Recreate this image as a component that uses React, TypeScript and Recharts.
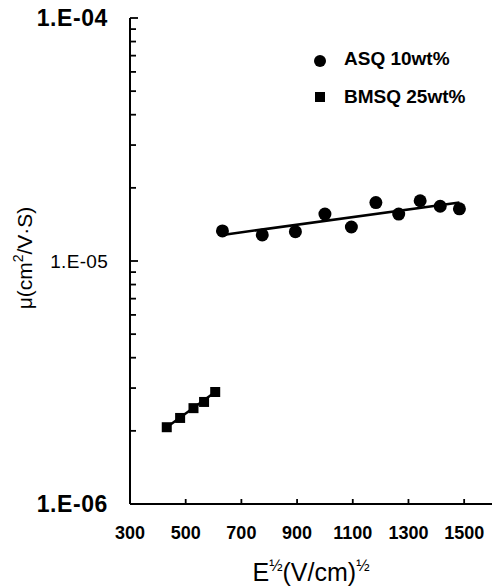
import React from 'react';
import { ScatterChart, Scatter, XAxis, YAxis, Legend } from 'recharts';

// E^1/2 (V/cm)^1/2 and mobility mu (cm2/V.s)
const asqField = [632, 775, 894, 1000, 1095, 1183, 1265, 1342, 1414, 1483];
const asqMobility = [1.33e-5, 1.28e-5, 1.32e-5, 1.56e-5, 1.38e-5, 1.74e-5, 1.56e-5, 1.77e-5, 1.68e-5, 1.64e-5];

const bmsqField = [432, 480, 528, 566, 606];
const bmsqMobility = [2.07e-6, 2.26e-6, 2.48e-6, 2.63e-6, 2.89e-6];

// fitted lines
const asqFitField = [632, 1483];
const asqFitMobility = [1.28e-5, 1.74e-5];
const bmsqFitField = [432, 606];
const bmsqFitMobility = [2.07e-6, 2.89e-6];

const xTicks = [300, 500, 700, 900, 1100, 1300, 1500];
const yTicks = [
  1e-6, 2e-6, 3e-6, 4e-6, 5e-6, 6e-6, 7e-6, 8e-6, 9e-6,
  1e-5, 2e-5, 3e-5, 4e-5, 5e-5, 6e-5, 7e-5, 8e-5, 9e-5,
  1e-4,
];
const yMajorLabels = ['1.E-06', '1.E-05', '1.E-04'];

const toPoints = (xs: number[], ys: number[]) => xs.map((x, i) => ({ x, y: ys[i] }));

const asqData = toPoints(asqField, asqMobility);
const bmsqData = toPoints(bmsqField, bmsqMobility);
const asqFit = toPoints(asqFitField, asqFitMobility);
const bmsqFit = toPoints(bmsqFitField, bmsqFitMobility);

const FONT = '"Liberation Sans", Arial, sans-serif';

// inward tick marks, longer on the decades
const YTick = (props: any) => {
  const { x, y, payload } = props;
  const lg = Math.log10(payload.value);
  const isMajor = Math.abs(lg - Math.round(lg)) < 1e-6;
  const label = isMajor ? yMajorLabels[Math.round(lg) + 6] : null;
  const mid = label === '1.E-05';
  return (
    <g>
      <line x1={x} x2={x + (isMajor ? 8 : 6)} y1={y} y2={y} stroke="#000" strokeWidth={1.8} />
      {label && (
        <text
          x={x - 22}
          y={y + (mid ? 7 : 8)}
          textAnchor="end"
          fontFamily={FONT}
          fontSize={mid ? 19 : 23}
          fontWeight={mid ? 'normal' : 'bold'}
          letterSpacing={mid ? 0.3 : 0.6}
          fill="#000"
        >
          {label}
        </text>
      )}
    </g>
  );
};

const XTick = (props: any) => {
  const { x, y, payload } = props;
  return (
    <g>
      {payload.value !== 300 && (
        <line x1={x} x2={x} y1={y} y2={y - 5} stroke="#000" strokeWidth={1.8} />
      )}
      <text x={x} y={y + 35} textAnchor="middle" fontFamily={FONT} fontSize={18} fontWeight="bold" fill="#000">
        {payload.value}
      </text>
    </g>
  );
};

const Dot = (props: any) => <circle cx={props.cx} cy={props.cy} r={6.5} fill="#000" />;
const Square = (props: any) => <rect x={props.cx - 5} y={props.cy - 5} width={10} height={10} fill="#000" />;
const NoShape = () => <g />;

const XLabel = (props: any) => {
  const { viewBox } = props;
  const cx = viewBox.x + viewBox.width / 2;
  return (
    <text x={cx} y={viewBox.y + 77} textAnchor="middle" fontFamily={FONT} fontSize={25} fill="#000">
      E<tspan fontSize={16} dy={-10}>½</tspan>
      <tspan dy={10}>(V/cm)</tspan>
      <tspan fontSize={16} dy={-10}>½</tspan>
    </text>
  );
};

const YLabel = (props: any) => {
  const { viewBox } = props;
  const cx = 32;
  const cy = viewBox.y + viewBox.height / 2 - 3;
  return (
    <text
      x={cx}
      y={cy}
      transform={`rotate(-90, ${cx}, ${cy})`}
      textAnchor="middle"
      fontFamily={FONT}
      fontSize={21}
      fill="#000"
    >
      μ(cm<tspan fontSize={14} dy={-9}>2</tspan>
      <tspan dy={9}>/V·S)</tspan>
    </text>
  );
};

const LegendContent = () => (
  <div style={{ fontFamily: FONT, fontSize: 19, fontWeight: 'bold', color: '#000' }}>
    <div style={{ display: 'flex', alignItems: 'center', height: 26 }}>
      <svg width={14} height={14} style={{ marginLeft: 1, marginRight: 17 }}>
        <circle cx={7} cy={7} r={6} fill="#000" />
      </svg>
      <span style={{ marginTop: -4 }}>ASQ 10wt%</span>
    </div>
    <div style={{ display: 'flex', alignItems: 'center', height: 26, marginTop: 10 }}>
      <svg width={14} height={14} style={{ marginLeft: 1, marginRight: 17 }}>
        <rect x={2} y={2} width={10} height={10} fill="#000" />
      </svg>
      <span>BMSQ 25wt%</span>
    </div>
  </div>
);

const frameLine = { stroke: '#000', strokeWidth: 2 };

export default function App() {
  return (
    <div style={{ position: 'absolute', left: 0, top: 0, width: 494, height: 588, background: '#fff' }}>
      <ScatterChart width={494} height={588} margin={{ top: 18, right: 2, bottom: 0, left: 0 }}>
        <XAxis
          type="number"
          dataKey="x"
          domain={[300, 1600]}
          ticks={xTicks}
          interval={0}
          allowDataOverflow
          axisLine={frameLine}
          tickLine={false}
          tickSize={0}
          tickMargin={0}
          height={84}
          tick={<XTick />}
          label={<XLabel />}
        />
        <XAxis
          xAxisId="top"
          orientation="top"
          type="number"
          domain={[300, 1600]}
          ticks={[]}
          tick={false}
          tickLine={false}
          axisLine={frameLine}
          height={0}
        />
        <YAxis
          type="number"
          dataKey="y"
          scale="log"
          domain={[1e-6, 1e-4]}
          ticks={yTicks}
          interval={0}
          allowDataOverflow
          axisLine={frameLine}
          tickLine={false}
          tickSize={0}
          tickMargin={0}
          width={130}
          tick={<YTick />}
          label={<YLabel />}
        />
        <YAxis
          yAxisId="right"
          orientation="right"
          type="number"
          domain={[0, 1]}
          ticks={[]}
          tick={false}
          tickLine={false}
          axisLine={frameLine}
          width={0}
        />
        <Legend
          layout="vertical"
          align="center"
          verticalAlign="middle"
          content={<LegendContent />}
          wrapperStyle={{ top: 48, left: 312, width: 180 }}
        />
        <Scatter name="ASQ fit" data={asqFit} shape={<NoShape />} line={{ stroke: '#000', strokeWidth: 2.5 }} isAnimationActive={false} legendType="none" />
        <Scatter name="BMSQ fit" data={bmsqFit} shape={<NoShape />} line={{ stroke: '#000', strokeWidth: 2.5 }} isAnimationActive={false} legendType="none" />
        <Scatter name="ASQ 10wt%" data={asqData} shape={<Dot />} isAnimationActive={false} />
        <Scatter name="BMSQ 25wt%" data={bmsqData} shape={<Square />} isAnimationActive={false} />
      </ScatterChart>
    </div>
  );
}
